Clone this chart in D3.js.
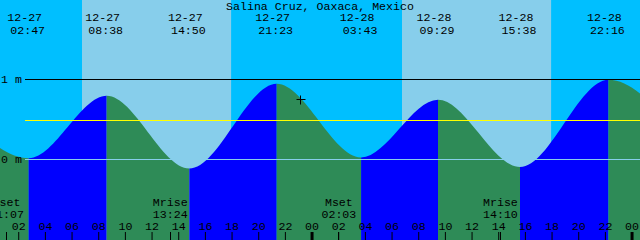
<!DOCTYPE html>
<html>
<head>
<meta charset="utf-8">
<script src="https://cdn.jsdelivr.net/npm/d3@7"></script>
<style>
    body { margin: 0; background: #00bfff; }
    svg { display: block; }
    text { font-family: "Liberation Mono", "DejaVu Sans Mono", monospace; font-size: 11.6px; fill: #000; }
</style>
</head>
<body>
<svg id="chart" width="640" height="240"></svg>
<script>
    var title = 'Salina Cruz, Oaxaca, Mexico';

    // window shown on the chart
    var startTime = '2023-12-27 00:38';
    var endTime = '2023-12-29 00:38';

    // highs and lows (first and last ones are just outside the window)
    var tideTimes = ['2023-12-26 20:40', '2023-12-27 02:47', '2023-12-27 08:38', '2023-12-27 14:50',
        '2023-12-27 21:23', '2023-12-28 03:43', '2023-12-28 09:29', '2023-12-28 15:38',
        '2023-12-28 22:16', '2023-12-29 04:30'];
    var tideHeights = [0.78, 0.01, 0.79, -0.12, 0.94, 0.02, 0.74, -0.10, 0.99, 0.08];

    var sunriseTimes = ['2023-12-27 06:47', '2023-12-28 06:47'];
    var sunsetTimes = ['2023-12-27 17:58', '2023-12-28 17:58'];

    var moonNames = ['Mset', 'Mrise', 'Mset', 'Mrise'];
    var moonTimes = ['2023-12-27 01:07', '2023-12-27 13:24', '2023-12-28 02:03', '2023-12-28 14:10'];

    var levelTicks = [0, 1];
    var levelLabels = ['0 m', '1 m'];
    var meanLevel = 0.485;

    var nowTime = '2023-12-27 23:08';
    var nowHeight = 0.745;

    var width = 640, height = 240;
    var parseTime = d3.utcParse('%Y-%m-%d %H:%M');
    var fmtDate = d3.utcFormat('%m-%d');
    var fmtTime = d3.utcFormat('%H:%M');

    var x = d3.scaleUtc()
        .domain([parseTime(startTime), parseTime(endTime)])
        .range([0, width]);

    var y = d3.scaleLinear()
        .domain([0, 1])
        .range([159, 79]);

    var crisp = function (v) { return Math.floor(v) + 0.5; };

    var tides = tideTimes.map(function (t, i) {
        return {time: parseTime(t), level: tideHeights[i]};
    });

    var svg = d3.select('#chart');

    // night sky, then day bands
    svg.append('rect')
        .attr('width', width).attr('height', height)
        .attr('fill', '#00bfff');

    svg.selectAll('.day')
        .data(sunriseTimes)
        .enter()
        .append('rect')
        .attr('class', 'day')
        .attr('x', function (d) { return x(parseTime(d)); })
        .attr('width', function (d, i) { return x(parseTime(sunsetTimes[i])) - x(parseTime(d)); })
        .attr('y', 0).attr('height', height)
        .attr('fill', '#87ceeb');

    // water, rising in blue and falling in green
    var area = d3.area()
        .x(function (d) { return x(d.time); })
        .y0(height)
        .y1(function (d) { return y(d.level); })
        .curve(d3.curveMonotoneX);

    svg.append('clipPath')
        .attr('id', 'water')
        .append('path')
        .attr('d', area(tides));

    svg.append('g')
        .attr('clip-path', 'url(#water)')
        .selectAll('rect')
        .data(tides.slice(1))
        .enter()
        .append('rect')
        .attr('x', function (d, i) { return x(tides[i].time); })
        .attr('width', function (d, i) { return x(d.time) - x(tides[i].time); })
        .attr('y', 0).attr('height', height)
        .attr('fill', function (d, i) { return d.level > tides[i].level ? '#0000ff' : '#2e8b57'; });

    // level lines
    svg.append('line')
        .attr('x1', 25).attr('x2', width)
        .attr('y1', crisp(y(0))).attr('y2', crisp(y(0)))
        .attr('stroke', '#87ceeb');

    svg.append('line')
        .attr('x1', 25).attr('x2', width)
        .attr('y1', crisp(y(meanLevel))).attr('y2', crisp(y(meanLevel)))
        .attr('stroke', '#ffff00');

    svg.append('line')
        .attr('x1', 25).attr('x2', width)
        .attr('y1', crisp(y(1))).attr('y2', crisp(y(1)))
        .attr('stroke', '#000');

    svg.selectAll('.level-label')
        .data(levelTicks)
        .enter()
        .append('text')
        .attr('x', 1)
        .attr('y', function (d) { return y(d) + 4; })
        .text(function (d, i) { return levelLabels[i]; });

    // title and tide times
    svg.append('text')
        .attr('x', width / 2).attr('y', 9.5)
        .attr('text-anchor', 'middle')
        .text(title);

    var shown = tides.filter(function (d) {
        return d.time >= x.domain()[0] && d.time <= x.domain()[1];
    });

    var labels = svg.selectAll('.tide-label')
        .data(shown)
        .enter()
        .append('g');

    labels.append('text')
        .attr('x', function (d) { return x(d.time) - 4; })
        .attr('y', 21)
        .attr('text-anchor', 'middle')
        .text(function (d) { return fmtDate(d.time); });

    labels.append('text')
        .attr('x', function (d) { return x(d.time) - 1; })
        .attr('y', 34)
        .attr('text-anchor', 'middle')
        .text(function (d) { return fmtTime(d.time); });

    // moon rise / set
    var moon = svg.selectAll('.moon')
        .data(moonTimes)
        .enter()
        .append('g');

    moon.append('text')
        .attr('x', function (d) { return x(parseTime(d)); })
        .attr('y', 206)
        .attr('text-anchor', 'middle')
        .text(function (d, i) { return moonNames[i]; });

    moon.append('text')
        .attr('x', function (d) { return x(parseTime(d)); })
        .attr('y', 217.5)
        .attr('text-anchor', 'middle')
        .text(function (d) { return fmtTime(parseTime(d)); });

    moon.append('line')
        .attr('x1', function (d) { return crisp(x(parseTime(d))); })
        .attr('x2', function (d) { return crisp(x(parseTime(d))); })
        .attr('y1', 232).attr('y2', height)
        .attr('stroke', '#000');

    // hour axis
    var axis = d3.axisTop(x)
        .ticks(d3.utcHour.every(2))
        .tickFormat(d3.utcFormat('%H'))
        .tickSize(8)
        .tickPadding(2);

    var axisG = svg.append('g')
        .attr('transform', 'translate(0,' + height + ')')
        .call(axis);

    axisG.select('.domain').remove();
    axisG.selectAll('.tick line')
        .attr('stroke', '#000')
        .attr('stroke-width', function (d) { return d.getUTCHours() === 0 ? 3 : 1; });

    // current time marker
    var nx = crisp(x(parseTime(nowTime)));
    var ny = crisp(y(nowHeight));

    svg.append('path')
        .attr('d', 'M' + (nx - 4) + ',' + ny + 'H' + (nx + 5) + 'M' + nx + ',' + (ny - 4) + 'V' + (ny + 5))
        .attr('stroke', '#000')
        .attr('fill', 'none');
</script>
</body>
</html>
